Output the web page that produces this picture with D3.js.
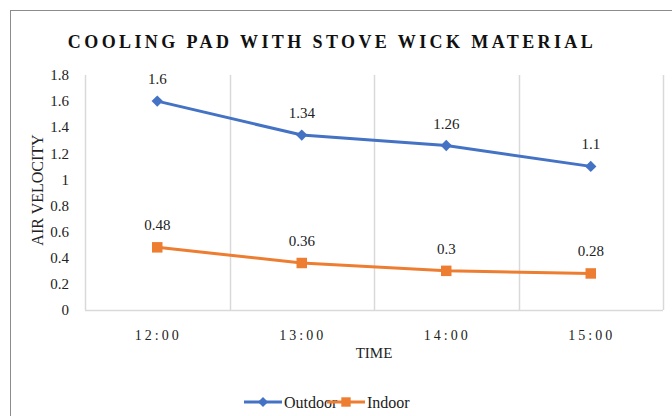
<!DOCTYPE html>
<html>
<head>
<meta charset="utf-8">
<script src="https://cdn.jsdelivr.net/npm/d3@7"></script>
<style>
  body { margin: 0; background: #fff; }
  svg text { font-family: "Liberation Serif", "Times New Roman", "DejaVu Serif", serif; }
</style>
</head>
<body>
<div id="chart"></div>
<script>
// chart data
const times = ["12:00", "13:00", "14:00", "15:00"];
const outdoor = [1.6, 1.34, 1.26, 1.1];
const indoor = [0.48, 0.36, 0.3, 0.28];
const yTicks = [0, 0.2, 0.4, 0.6, 0.8, 1, 1.2, 1.4, 1.6, 1.8];

const W = 672, H = 416;
const FONT = "Liberation Serif, Times New Roman, serif";
const margin = { top: 75, right: 9, bottom: 106, left: 85 };
const width = W - margin.left - margin.right;
const height = H - margin.top - margin.bottom;

const svg = d3.select("#chart").append("svg")
  .attr("width", W)
  .attr("height", H)
  .attr("font-family", FONT);

// outer chart border
svg.append("rect")
  .attr("x", 10.5).attr("y", 10.5)
  .attr("width", W).attr("height", H)
  .attr("fill", "none")
  .attr("stroke", "#8c8c8c")
  .attr("stroke-width", 1);

svg.append("text")
  .attr("x", 332)
  .attr("y", 48)
  .attr("text-anchor", "middle")
  .attr("font-size", "18px")
  .attr("font-weight", "bold")
  .attr("letter-spacing", "3.4px")
  .attr("fill", "#111")
  .text("COOLING PAD WITH STOVE WICK MATERIAL");

const g = svg.append("g").attr("transform", `translate(${margin.left},${margin.top})`);

const x = d3.scaleBand().domain(times).range([0, width]);
const y = d3.scaleLinear().domain([0, 1.8]).range([height, 0]);

// vertical gridlines at category boundaries
const bounds = times.map(t => x(t)).concat([width]);
g.selectAll(".vgrid")
  .data(bounds)
  .join("line")
  .attr("class", "vgrid")
  .attr("x1", d => Math.round(d) + 0.5)
  .attr("x2", d => Math.round(d) + 0.5)
  .attr("y1", 0)
  .attr("y2", height)
  .attr("stroke", "#d9d9d9")
  .attr("stroke-width", 1.5);

// bottom axis line
g.append("line")
  .attr("x1", 0).attr("x2", width)
  .attr("y1", height + 0.5).attr("y2", height + 0.5)
  .attr("stroke", "#d9d9d9")
  .attr("stroke-width", 1.5);

// y tick labels
g.selectAll(".ytick")
  .data(yTicks)
  .join("text")
  .attr("class", "ytick")
  .attr("x", -16)
  .attr("y", d => y(d))
  .attr("dy", "0.35em")
  .attr("text-anchor", "end")
  .attr("font-size", "15px")
  .attr("fill", "#222")
  .text(d => d3.format("~g")(d));

// x tick labels
g.selectAll(".xtick")
  .data(times)
  .join("text")
  .attr("class", "xtick")
  .attr("x", d => x(d) + x.bandwidth() / 2 + 1)
  .attr("y", height + 30)
  .attr("text-anchor", "middle")
  .attr("font-size", "14px")
  .attr("letter-spacing", "3px")
  .attr("fill", "#222")
  .text(d => d);

// axis titles
svg.append("text")
  .attr("x", margin.left + width / 2)
  .attr("y", 358)
  .attr("text-anchor", "middle")
  .attr("font-size", "15px")
  .attr("fill", "#222")
  .text("TIME");

svg.append("text")
  .attr("transform", "translate(43,190) rotate(-90)")
  .attr("text-anchor", "middle")
  .attr("font-size", "16px")
  .attr("fill", "#222")
  .text("AIR VELOCITY");

const series = [
  { name: "Outdoor", values: outdoor, color: "#4472C4", symbol: d3.symbolSquare, rot: 45, size: 64 },
  { name: "Indoor", values: indoor, color: "#ED7D31", symbol: d3.symbolSquare, rot: 0, size: 110 }
];

const line = d3.line()
  .x((d, i) => x(times[i]) + x.bandwidth() / 2)
  .y(d => y(d));

series.forEach(s => {
  g.append("path")
    .datum(s.values)
    .attr("d", line)
    .attr("fill", "none")
    .attr("stroke", s.color)
    .attr("stroke-width", 3);

  g.selectAll(null)
    .data(s.values)
    .join("path")
    .attr("transform", (d, i) => `translate(${x(times[i]) + x.bandwidth() / 2},${y(d)}) rotate(${s.rot})`)
    .attr("d", d3.symbol().type(s.symbol).size(s.size))
    .attr("fill", s.color);

  g.selectAll(null)
    .data(s.values)
    .join("text")
    .attr("x", (d, i) => x(times[i]) + x.bandwidth() / 2)
    .attr("y", d => y(d) - 17)
    .attr("text-anchor", "middle")
    .attr("font-size", "15px")
    .attr("fill", "#222")
    .text(d => d);
});

// legend
const legend = svg.append("g").attr("transform", "translate(244,402)");
const legendX = [0, 83];
series.forEach((s, i) => {
  const lg = legend.append("g").attr("transform", `translate(${legendX[i]},0)`);
  lg.append("line")
    .attr("x1", 0).attr("x2", 38)
    .attr("y1", 0).attr("y2", 0)
    .attr("stroke", s.color)
    .attr("stroke-width", 3);
  lg.append("path")
    .attr("transform", `translate(19,0) rotate(${s.rot})`)
    .attr("d", d3.symbol().type(s.symbol).size(s.size * 0.8))
    .attr("fill", s.color);
  lg.append("text")
    .attr("x", 40)
    .attr("y", 0)
    .attr("dy", "0.35em")
    .attr("font-size", "16px")
    .attr("fill", "#222")
    .text(s.name);
});
</script>
</body>
</html>
